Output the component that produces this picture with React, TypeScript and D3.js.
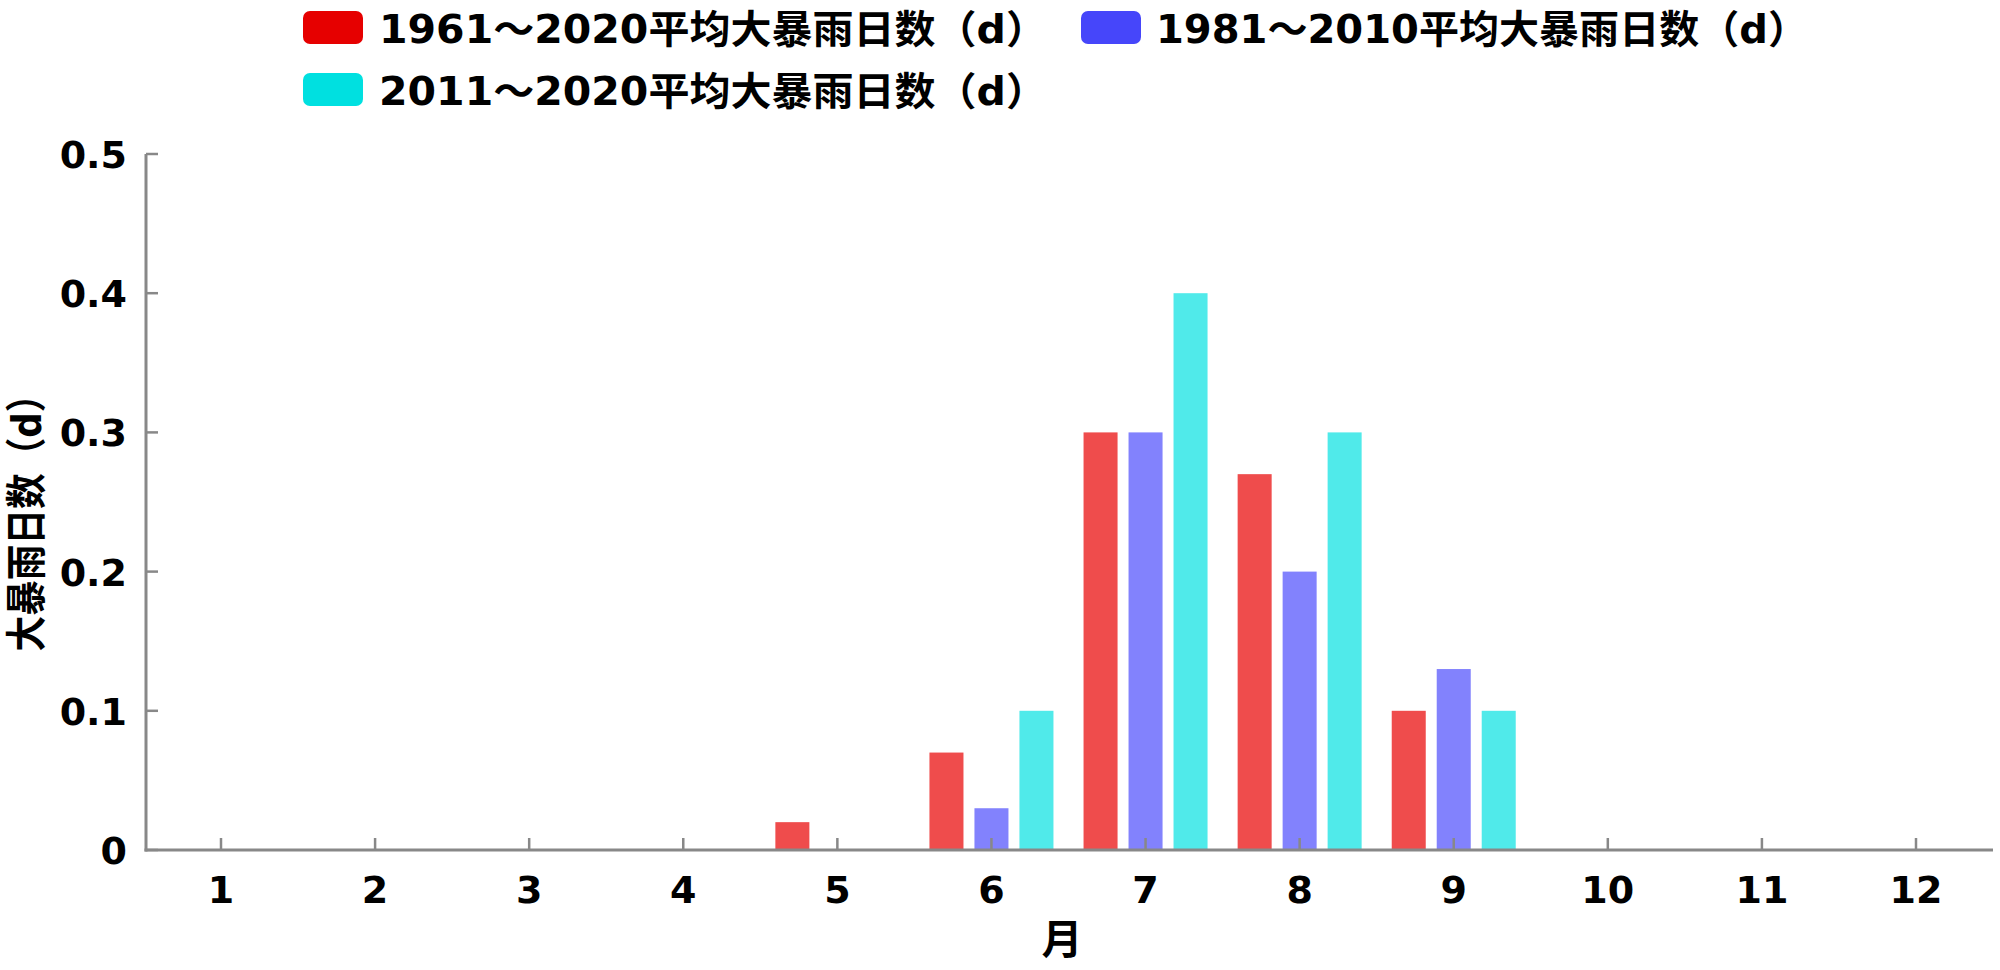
import React from 'react'
import * as d3 from 'd3'

// months on the x axis
const months = [1, 2, 3, 4, 5, 6, 7, 8, 9, 10, 11, 12]

// average days of heavy rainstorm, per month
const avg1961_2020 = [0, 0, 0, 0, 0.02, 0.07, 0.3, 0.27, 0.1, 0, 0, 0]
const avg1981_2010 = [0, 0, 0, 0, 0, 0.03, 0.3, 0.2, 0.13, 0, 0, 0]
const avg2011_2020 = [0, 0, 0, 0, 0, 0.1, 0.4, 0.3, 0.1, 0, 0, 0]

const seriesNames = [
  '1961～2020平均大暴雨日数（d）',
  '1981～2010平均大暴雨日数（d）',
  '2011～2020平均大暴雨日数（d）',
]
const yTicks = [0, 0.1, 0.2, 0.3, 0.4, 0.5]

const barColors = ['#ef4c4c', '#8282fd', '#50eaea']
const swatchColors = ['#e60000', '#4646fa', '#00e0e0']

const W = 2000
const H = 970
const left = 146
const right = 1993
const top = 154
const bottom = 850

const NUM_FONT = '"DejaVu Sans", "Noto Sans CJK SC", sans-serif'
const CJK_FONT = '"DejaVu Sans", "Noto Sans CJK SC", sans-serif'

export default function App() {
  const series = [avg1961_2020, avg1981_2010, avg2011_2020]

  // month centre positions
  const x = d3.scaleLinear().domain([1, 12]).range([221, 1916])
  // position of each series inside a month group
  const inner = d3
    .scaleBand<number>()
    .domain([0, 1, 2])
    .range([-62, 62])
    .paddingInner(0.244)
  const y = d3.scaleLinear().domain([0, 0.5]).range([bottom, top])

  // legend layout: [swatchX, textX, baselineY, textLength]
  const legend = [
    [303, 379, 43, 668],
    [1081, 1156, 43, 652],
    [303, 379, 105, 668],
  ]

  return (
    <svg
      width={W}
      height={H}
      style={{ position: 'absolute', left: 0, top: 0, background: '#fff' }}
    >
      {/* legend */}
      {legend.map(([sx, tx, by, len], i) => (
        <g key={'lg' + i}>
          <rect x={sx} y={by - 32} width={60} height={33} rx={7} fill={swatchColors[i]} />
          <text
            x={tx}
            y={by}
            fontFamily={CJK_FONT}
            fontWeight="bold"
            fontSize={39}
            textLength={len}
            lengthAdjust="spacingAndGlyphs"
            fill="#000"
          >
            {seriesNames[i]}
          </text>
        </g>
      ))}

      {/* bars */}
      {series.map((vals, si) => (
        <g key={'s' + si} fill={barColors[si]}>
          {vals.map((v, mi) =>
            v > 0 ? (
              <rect
                key={mi}
                x={x(months[mi]) + (inner(si) as number)}
                y={y(v)}
                width={inner.bandwidth()}
                height={bottom - y(v)}
              />
            ) : null
          )}
        </g>
      ))}

      {/* axes */}
      <g stroke="#888" strokeWidth={3} fill="none">
        <line x1={left} y1={top} x2={left} y2={bottom + 1.5} />
        <line x1={left - 1.5} y1={bottom} x2={right} y2={bottom} />
        {yTicks.map(t => (
          <line key={'yt' + t} x1={left} y1={y(t)} x2={left + 12} y2={y(t)} strokeWidth={2.5} />
        ))}
        {months.map(m => (
          <line key={'xt' + m} x1={x(m)} y1={bottom} x2={x(m)} y2={bottom - 12} strokeWidth={2.5} />
        ))}
      </g>

      {/* y tick labels */}
      {yTicks.map(t => (
        <text
          key={'yl' + t}
          x={127}
          y={y(t) + 14}
          textAnchor="end"
          fontFamily={NUM_FONT}
          fontWeight="bold"
          fontSize={38}
          fill="#000"
        >
          {t === 0 ? '0' : t.toFixed(1)}
        </text>
      ))}

      {/* x tick labels */}
      {months.map(m => (
        <text
          key={'xl' + m}
          x={x(m)}
          y={903}
          textAnchor="middle"
          fontFamily={NUM_FONT}
          fontWeight="bold"
          fontSize={38}
          fill="#000"
        >
          {m}
        </text>
      ))}

      {/* axis titles */}
      <text
        x={1062}
        y={954}
        textAnchor="middle"
        fontFamily={CJK_FONT}
        fontWeight="bold"
        fontSize={41}
        fill="#000"
      >
        月
      </text>
      <text
        transform="translate(41,514) rotate(-90)"
        textAnchor="middle"
        fontFamily={CJK_FONT}
        fontWeight="bold"
        fontSize={41}
        textLength={275}
        lengthAdjust="spacingAndGlyphs"
        fill="#000"
      >
        大暴雨日数（d）
      </text>
    </svg>
  )
}
